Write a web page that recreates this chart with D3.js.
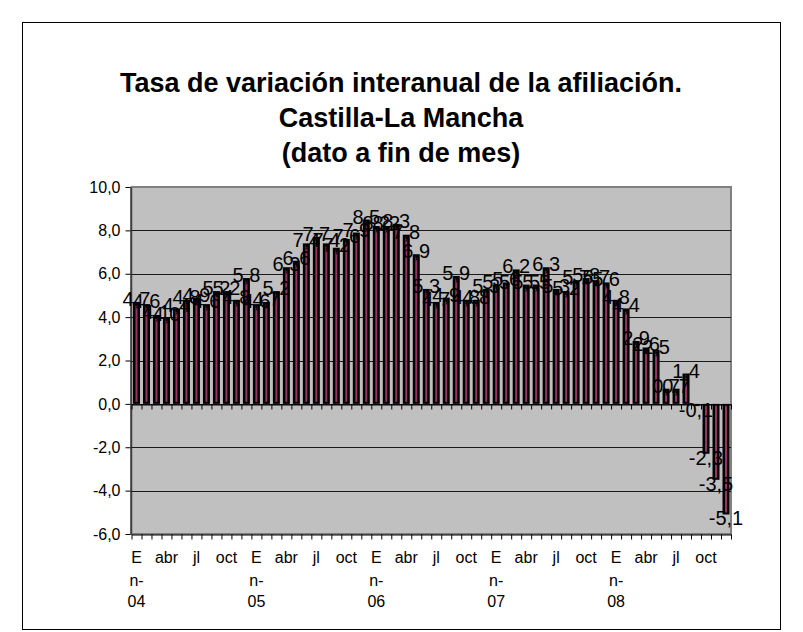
<!DOCTYPE html>
<head>
    <meta charset="utf-8">
</head>
<style>
    body { margin: 0; background: #fff; }
    svg { display: block; font-family: "Liberation Sans", Arial, sans-serif; }
    .title { font-weight: bold; font-size: 27px; }
    .xlab { font-size: 16px; }
    .dlab { font-size: 20px; }
</style>
<svg id="chart" width="803" height="632"></svg>
<script src="https://cdnjs.cloudflare.com/ajax/libs/d3/7.8.5/d3.min.js"></script>
<script>

    var titleLines = ["Tasa de variación interanual de la afiliación.", "Castilla-La Mancha", "(dato a fin de mes)"];

    var years = ["04", "05", "06", "07", "08"];
    var monthLabels = ["E", "", "", "abr", "", "", "jl", "", "", "oct", "", ""];

    var values2004 = [4.7, 4.6, 4.1, 4.0, 4.4, 4.8, 4.9, 4.6, 5.2, 5.2, 4.8, 5.8];
    var values2005 = [4.6, 4.7, 5.2, 6.3, 6.6, 7.4, 7.7, 7.4, 7.2, 7.6, 7.9, 8.5];
    var values2006 = [8.2, 8.2, 8.3, 7.8, 6.9, 5.3, 4.7, 4.9, 5.9, 4.8, 4.8, 5.3];
    var values2007 = [5.5, 5.6, 6.2, 5.5, 5.5, 6.3, 5.3, 5.2, 5.7, 5.8, 5.7, 5.6];
    var values2008 = [4.8, 4.4, 2.9, 2.6, 2.5, 0.7, 0.7, 1.4, -0.1, -2.3, -3.5, -5.1];

    var yTicks = [-6, -4, -2, 0, 2, 4, 6, 8, 10];

    var values = [].concat(values2004, values2005, values2006, values2007, values2008);
    var data = [];
    years.forEach(function (yr, yi) {
        monthLabels.forEach(function (m, mi) {
            data.push({i: yi * 12 + mi, month: m, year: yr, value: values[yi * 12 + mi]});
        });
    });

    var locale = d3.formatLocale({decimal: ",", thousands: ".", grouping: [3], currency: ["", "€"], minus: "-"});
    var fmt = locale.format(".1f");

    var svg = d3.select("#chart");
    var plot = {left: 131.5, right: 731, top: 187, bottom: 534};

    // chart frame
    svg.append("rect")
        .attr("x", 22.5).attr("y", 22.5)
        .attr("width", 758).attr("height", 607)
        .attr("fill", "#fff").attr("stroke", "#000");

    svg.append("g").selectAll("text")
        .data(titleLines)
        .enter().append("text")
        .attr("class", "title")
        .attr("x", 401)
        .attr("y", function (d, i) { return 92 + i * 35; })
        .attr("text-anchor", "middle")
        .text(function (d) { return d; });

    var x = d3.scaleBand()
        .domain(d3.range(data.length))
        .range([plot.left, plot.right])
        .paddingInner(0.3)
        .paddingOuter(0.15);

    var xb = d3.scaleLinear()
        .domain([0, data.length])
        .range([plot.left, plot.right]);

    var y = d3.scaleLinear()
        .domain([-6, 10])
        .range([plot.bottom, plot.top]);

    // plot area
    svg.append("rect")
        .attr("x", plot.left).attr("y", plot.top)
        .attr("width", plot.right - plot.left).attr("height", plot.bottom - plot.top)
        .attr("fill", "#c0c0c0").attr("stroke", "#808080").attr("stroke-width", 2);

    svg.append("g").selectAll("line")
        .data(yTicks.filter(function (d) { return d > -6 && d < 10; }))
        .enter().append("line")
        .attr("x1", plot.left).attr("x2", plot.right)
        .attr("y1", function (d) { return Math.round(y(d)) + 0.5; })
        .attr("y2", function (d) { return Math.round(y(d)) + 0.5; })
        .attr("stroke", "#1a1a1a");

    // y axis
    var yAxis = svg.append("g")
        .attr("transform", "translate(130.5,0)")
        .call(d3.axisLeft(y).tickValues(yTicks).tickFormat(fmt).tickSize(5).tickSizeOuter(0));
    yAxis.selectAll("text").attr("font-size", 16).attr("font-family", null).attr("fill", "#000").attr("dx", "-2");
    yAxis.selectAll("line, path").attr("stroke", "#000");

    // category axis at zero and at the bottom
    [Math.round(y(0)) + 0.5, plot.bottom + 0.5].forEach(function (yy) {
        var ax = svg.append("g")
            .attr("transform", "translate(0," + yy + ")")
            .call(d3.axisBottom(xb).tickValues(d3.range(data.length + 1)).tickFormat("").tickSize(5).tickSizeOuter(0));
        ax.selectAll("line, path").attr("stroke", "#000");
    });

    // bars
    var bars = svg.append("g").selectAll("g")
        .data(data)
        .enter().append("g");
    bars.append("rect")
        .attr("x", function (d) { return x(d.i); })
        .attr("width", x.bandwidth())
        .attr("y", function (d) { return y(Math.max(0, d.value)); })
        .attr("height", function (d) { return Math.abs(y(d.value) - y(0)); })
        .attr("fill", "#000");
    bars.append("rect")
        .attr("x", function (d) { return x(d.i) + x.bandwidth() / 2 - 1; })
        .attr("width", 2)
        .attr("y", function (d) { return y(Math.max(0, d.value)) + 2; })
        .attr("height", function (d) { return Math.max(0, Math.abs(y(d.value) - y(0)) - 4); })
        .attr("fill", "#993366");

    // data labels
    svg.append("g").selectAll("text")
        .data(data)
        .enter().append("text")
        .attr("class", "dlab")
        .attr("x", function (d) { return x(d.i) + x.bandwidth() / 2; })
        .attr("y", function (d) { return y(d.value) + (d.value < 0 ? 4 : -3); })
        .attr("dy", "0.35em")
        .attr("text-anchor", "middle")
        .text(function (d) { return fmt(d.value); });

    // category labels
    var xl = svg.append("g").selectAll("g")
        .data(data.filter(function (d) { return d.month !== ""; }))
        .enter().append("g")
        .attr("class", "xlab")
        .attr("transform", function (d) { return "translate(" + (x(d.i) + x.bandwidth() / 2) + ",0)"; });
    xl.append("text")
        .attr("y", 563)
        .attr("text-anchor", "middle")
        .text(function (d) { return d.month; });
    xl.filter(function (d) { return d.month === "E"; }).append("text")
        .attr("y", 586)
        .attr("text-anchor", "middle")
        .text("n-");
    xl.filter(function (d) { return d.month === "E"; }).append("text")
        .attr("y", 607)
        .attr("text-anchor", "middle")
        .text(function (d) { return d.year; });

</script>
